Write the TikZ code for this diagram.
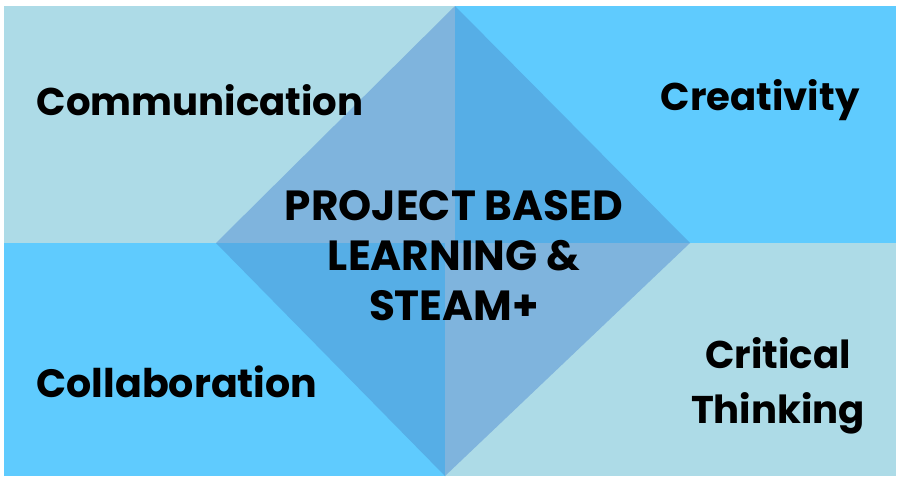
\documentclass[tikz,border=0pt]{standalone}
\usepackage{fontspec}
\setmainfont{Poppins}
\definecolor{paleblue}{HTML}{ADDBE7}
\definecolor{skyblue}{HTML}{5FCBFE}
\definecolor{midblue}{HTML}{7FB4DD}
\definecolor{deepblue}{HTML}{56AEE6}

\begin{document}
\begin{tikzpicture}[x=0.02cm, y=-0.02cm,
    every node/.style={font=\bfseries\fontsize{22}{31}\selectfont, text=black, inner sep=0pt},
    skill/.style={align=center}]
    \useasboundingbox (0, 0) rectangle (899, 478);

    % the four quarters
    \fill[paleblue] (4, 6) rectangle (455, 243);
    \fill[skyblue] (455, 6) rectangle (896, 243);
    \fill[skyblue] (4, 243) rectangle (445, 476);
    \fill[paleblue] (445, 243) rectangle (896, 476);

    % the diamond in the middle
    \coordinate (top) at (455, 6);
    \coordinate (left) at (216, 243);
    \coordinate (right) at (690, 243);
    \coordinate (bottom) at (445, 476);
    \coordinate (midtop) at (455, 243);
    \coordinate (midbot) at (445, 243);
    \fill[midblue] (top) -- (left) -- (midtop) -- cycle;
    \fill[deepblue] (top) -- (right) -- (midtop) -- cycle;
    \fill[deepblue] (left) -- (bottom) -- (midbot) -- cycle;
    \fill[midblue] (right) -- (bottom) -- (midbot) -- cycle;

    \node (comm) at (200, 100) {Communication};
    \node (crea) at (760, 100) {Creativity};
    \node[font=\bfseries\fontsize{22.5}{31}\selectfont] (coll) at (177, 382) {Collaboration};
    \node[skill] (crit) at (778, 386) {Critical\\Thinking};
    \node[skill, font=\bfseries\fontsize{24}{28.5}\selectfont] (pbl) at (454, 256)
        {PROJECT BASED\\LEARNING \&\\STEAM+};
\end{tikzpicture}
\end{document}
